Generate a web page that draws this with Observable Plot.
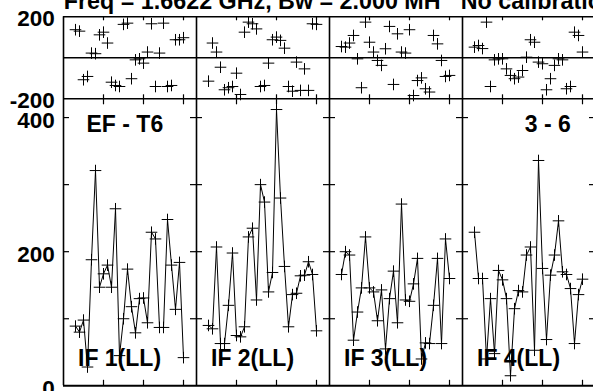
<!DOCTYPE html>
<html>
<head>
<meta charset="utf-8">
<script src="https://cdn.jsdelivr.net/npm/d3@7"></script>
<script src="https://cdn.jsdelivr.net/npm/@observablehq/plot@0.6"></script>
<style>
  html, body { margin: 0; padding: 0; background: #fff; overflow: hidden; }
  #chart { position: relative; width: 593px; height: 391px; overflow: hidden; background: #fff; }
</style>
</head>
<body>
<div id="chart"></div>
<script>
// ---------- data ----------
const IFS = [1, 2, 3, 4];
const IF_LABELS = ["IF 1(LL)", "IF 2(LL)", "IF 3(LL)", "IF 4(LL)"];
const CHANNELS = d3.range(3, 31); // 28 channels

const amp1 = [89, 80, 98, 28, 188, 321, 147, 167, 180, 147, 264, 45, 100, 174, 118, 79, 130, 131, 94, 229, 219, 87, 87, 248, 180, 114, 184, 42];
const amp2 = [90, 85, 207, 63, 63, 120, 198, 75, 73, 88, 222, 235, 128, 300, 274, 140, 169, 412, 280, 178, 88, 136, 138, 164, 165, 185, 166, 82];
const amp3 = [166, 200, 195, 68, 110, 146, 222, 146, 140, 97, 143, 55, 130, 171, 94, 271, 128, 126, 152, 190, 40, 64, 63, 120, 190, 63, 219, 160];
const amp4 = [229, 160, 160, 40, 130, 48, 172, 158, 130, 15, 115, 142, 140, 195, 207, 53, 336, 175, 69, 165, 195, 246, 170, 166, 145, 63, 136, 159];

const phase1 = [137, 130, -107, -91, 23, 20, 112, 125, 72, -119, -135, -140, 163, 169, -102, -10, -5, -26, 28, 166, -140, 23, 169, -140, -135, 88, 88, 98];
const phase2 = [-114, 72, 28, -46, -156, -146, -140, -75, -179, 125, 174, 166, 141, -140, -135, -26, 88, 101, 85, 47, -140, -163, -21, -159, -54, -159, 166, 163];
const phase3 = [55, 52, 72, 109, -5, -146, 174, 76, 28, -13, -37, 44, 153, -130, 117, 28, 23, 137, -184, -111, -98, -151, -167, 109, 68, -13, -91, -86];
const phase4 = [52, 60, 45, 174, -140, -10, -5, -5, -54, -86, -102, -94, -62, 3, 88, 76, -21, -29, -156, -102, -37, -5, -10, -151, -140, 125, 109, 28];

const X_TICKS = [10, 20, 30];
const AMP_TICKS = [100, 200, 300, 400];
const AMP_LABELS = [0, 200, 400];
const PHASE_LINES = [-200, 0, 200];
const PHASE_LABELS = [-200, 200];
const TITLE = "Freq = 1.6622 GHz, Bw = 2.000 MH";
const SUBTITLE = "No calibration applied";
const BASELINE_LABEL = "EF - T6";
const SOURCE_LABEL = "3 - 6";

const ampSeries = [amp1, amp2, amp3, amp4];
const phaseSeries = [phase1, phase2, phase3, phase4];
const rows = IFS.flatMap((f, k) => CHANNELS.map((ch, i) => ({
  if: f, ch, amp: ampSeries[k][i], phase: phaseSeries[k][i]
})));

// ---------- layout / style ----------
const W = 595, ML = 63;
const PANEL = (W - ML) / IFS.length;
const INK = "#000";
const BORDER = 1.6;
const FONT = {fontFamily: "Liberation Sans, Arial, Helvetica, sans-serif", fontWeight: "bold", fill: "#000"};

const cross = {
  draw(ctx, size) {
    const r = Math.sqrt(size / Math.PI);
    ctx.moveTo(-r, 0); ctx.lineTo(r, 0);
    ctx.moveTo(0, -r); ctx.lineTo(0, r);
  }
};

const common = {
  width: W,
  marginLeft: ML,
  marginRight: 0,
  fx: {domain: IFS, padding: 0, axis: null},
  x: {domain: [0, 33.25], axis: null}
};

// ---------- phase panel ----------
const PH_H = 104, PH_T = 16.3, PH_B = 5.7;
const PH_FRAME = PH_H - PH_T - PH_B;
const phasePlot = Plot.plot({
  ...common,
  height: PH_H,
  marginTop: PH_T,
  marginBottom: PH_B,
  y: {domain: [-200, 200], axis: null},
  marks: [
    Plot.ruleY(PHASE_LINES, {stroke: INK, strokeWidth: BORDER}),
    Plot.ruleX([0], {stroke: INK, strokeWidth: BORDER}),
    Plot.ruleX(X_TICKS, {insetTop: PH_FRAME - 4, stroke: INK, strokeWidth: 1.2}),
    Plot.ruleX(X_TICKS, {insetBottom: PH_FRAME - 4, stroke: INK, strokeWidth: 1.2}),
    Plot.dot(rows, {fx: "if", x: "ch", y: "phase", symbol: cross, r: 5.8, stroke: "#000", fill: "none", strokeWidth: 1}),
    Plot.text(PHASE_LABELS, {fx: () => 1, y: d => d, text: d => String(d), frameAnchor: "left", textAnchor: "end", lineAnchor: "middle", dx: -8.7, dy: 1.8, fontSize: 22.5, ...FONT}),
    Plot.text([TITLE], {fx: () => 1, text: d => d, frameAnchor: "top-left", textAnchor: "start", lineAnchor: "bottom", dx: 0.3, dy: -7.8, fontSize: 23.3, ...FONT}),
    Plot.text([SUBTITLE], {fx: () => 4, text: d => d, frameAnchor: "top-left", textAnchor: "start", lineAnchor: "bottom", dx: -1.7, dy: -7.8, fontSize: 23.3, ...FONT})
  ]
});

// ---------- amplitude panel ----------
const AM_TOP = 98, AM_H = 391 - AM_TOP, AM_T = 0.3, AM_B = 5.7;
const AM_FRAME = AM_H - AM_T - AM_B;
const ampPlot = Plot.plot({
  ...common,
  height: AM_H,
  marginTop: AM_T,
  marginBottom: AM_B,
  y: {domain: [0, 428], axis: null},
  marks: [
    Plot.ruleX([0], {stroke: INK, strokeWidth: BORDER}),
    Plot.ruleY([0], {stroke: INK, strokeWidth: BORDER + 0.3}),
    Plot.ruleX(X_TICKS, {insetTop: AM_FRAME - 5.5, stroke: INK, strokeWidth: 1.2}),
    Plot.ruleX(X_TICKS, {insetBottom: AM_FRAME - 6, stroke: INK, strokeWidth: 1.2}),
    Plot.ruleY(AMP_TICKS, {insetRight: PANEL - 6, stroke: INK, strokeWidth: 1.2}),
    Plot.ruleY(AMP_TICKS, {insetLeft: PANEL - 6, stroke: INK, strokeWidth: 1.2}),
    Plot.line(rows, {fx: "if", x: "ch", y: "amp", z: "if", stroke: "#000", strokeWidth: 1}),
    Plot.dot(rows, {fx: "if", x: "ch", y: "amp", symbol: cross, r: 5.8, stroke: "#000", fill: "none", strokeWidth: 1}),
    Plot.text(AMP_LABELS, {fx: () => 1, y: d => d, text: d => String(d), frameAnchor: "left", textAnchor: "end", lineAnchor: "middle", dx: -8.7, dy: 3, fontSize: 22.5, ...FONT}),
    Plot.text([BASELINE_LABEL], {fx: () => 1, text: d => d, frameAnchor: "top-left", textAnchor: "start", lineAnchor: "bottom", dx: 23, dy: 33.4, fontSize: 23, ...FONT}),
    Plot.text([SOURCE_LABEL], {fx: () => 4, text: d => d, frameAnchor: "top-right", textAnchor: "end", lineAnchor: "bottom", dx: -24.6, dy: 33.4, fontSize: 23, ...FONT}),
    Plot.text(IF_LABELS, {fx: (d, i) => IFS[i], text: d => d, frameAnchor: "bottom-left", textAnchor: "start", lineAnchor: "bottom", dx: 14.5, dy: -20.3, fontSize: 23, ...FONT})
  ]
});

const chart = document.getElementById("chart");
for (const [svg, top] of [[phasePlot, 0], [ampPlot, AM_TOP]]) {
  svg.style.position = "absolute";
  svg.style.left = "0px";
  svg.style.top = top + "px";
  svg.style.maxWidth = "none";
  svg.style.overflow = "visible";
  svg.style.background = "none";
  chart.appendChild(svg);
}
</script>
</body>
</html>
